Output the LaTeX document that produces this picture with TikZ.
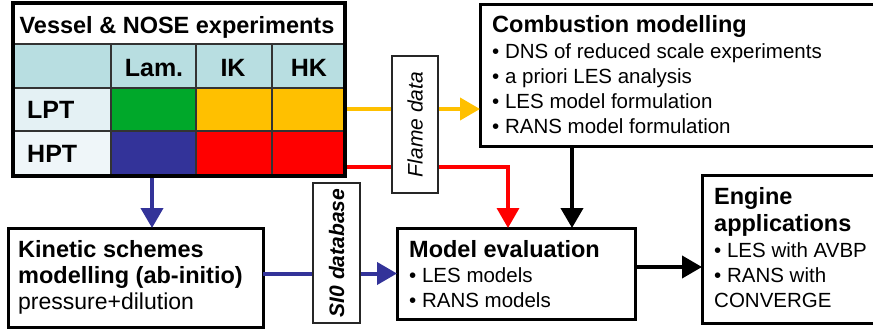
\documentclass[tikz,border=0pt]{standalone}
\usepackage{fontspec}
\setmainfont{Liberation Sans}
\usetikzlibrary{arrows.meta}
\definecolor{cyel}{HTML}{FFC000}
\definecolor{cred}{HTML}{FF0000}
\definecolor{cblue}{HTML}{333399}
\definecolor{cgreen}{HTML}{00A82A}
\definecolor{chead}{HTML}{B8DEE1}
\definecolor{clpt}{HTML}{E4F1F4}
\definecolor{chpt}{HTML}{EFF6F9}
\begin{document}
\begin{tikzpicture}[x=1pt,y=-1pt,
  box/.style={draw=black,line width=3,fill=white,inner sep=0,outer sep=0},
  thinbox/.style={draw=black!85,line width=1.3,fill=white,inner sep=0,outer sep=0},
  ttl/.style={anchor=base west,inner sep=0,font=\fontsize{23.5}{28}\selectfont\bfseries},
  btxt/.style={anchor=base west,inner sep=0,font=\fontsize{20.5}{25}\selectfont},
  hdr/.style={anchor=base,inner sep=0,font=\fontsize{25}{30}\selectfont\bfseries},
  conn/.style={line width=4,-{Triangle[length=20pt,width=22pt]}},
  grid/.style={draw=black!80,line width=1.3}
]
\useasboundingbox (0,0) rectangle (873,332);
\clip (0,0) rectangle (873,332);

% ---------- connectors (drawn first, boxes on top) ----------
\coordinate (yy) at (0,109);
\coordinate (rc) at (508,167);
\coordinate (bx) at (152,0);
\coordinate (cx) at (572,0);
\coordinate (ey) at (0,267);

% table frame node (for naming)
\node[draw=none,minimum width=332,minimum height=173,inner sep=0,outer sep=0,anchor=north west] (tbl) at (13,3) {};
\node[box,minimum width=400,minimum height=142] (comb) at (680,75) {};
\node[box,minimum width=255,minimum height=99] (kin) at (135.5,277.5) {};
\node[box,minimum width=238,minimum height=91] (meval) at (516,273.5) {};
\node[box,minimum width=178,minimum height=148] (eng) at (791,249) {};

\draw[conn,cyel] (tbl.east |- yy) -- (comb.west |- yy);
\draw[conn,cred,line width=3.5] (tbl.east |- rc) -- (rc) -- (rc |- meval.north);
\draw[conn,cblue] (bx |- tbl.south) -- (bx |- kin.north);
\draw[conn,cblue] (kin.east |- meval.west) -- (meval.west);
\draw[conn,black] (cx |- comb.south) -- (cx |- meval.north);
\draw[conn,black] (meval.east |- ey) -- (eng.west |- ey);

% ---------- label boxes on the connectors ----------
\node[thinbox,minimum width=46,minimum height=137] (flame) at (415,124.5) {};
\node[rotate=90,inner sep=0,font=\fontsize{21}{25}\selectfont\itshape] (flametxt) at (flame.center) {Flame data};
\node[thinbox,minimum width=47,minimum height=140] (sio) at (336.5,253) {};
\node[rotate=90,inner sep=0,font=\fontsize{21}{25}\selectfont\bfseries\itshape] (siotxt) at (sio.center) {SI0 database};

% ---------- table ----------
\fill[white] (13,3) rectangle (345,44);
\fill[chead] (13,44) rectangle (345,88);
\fill[clpt] (13,88) rectangle (111,131);
\fill[chpt] (13,131) rectangle (111,176);
\fill[cgreen] (111,88) rectangle (196,131);
\fill[cyel] (196,88) rectangle (345,131);
\fill[cblue] (111,131) rectangle (196,176);
\fill[cred] (196,131) rectangle (345,176);
\draw[grid] (13,44) -- (345,44);
\draw[grid] (13,88) -- (345,88);
\draw[grid] (13,131) -- (345,131);
\draw[grid] (111,44) -- (111,176);
\draw[grid] (196,44) -- (196,176);
\draw[grid] (272,44) -- (272,176);
\draw[black,line width=4] (tbl.north west) rectangle (tbl.south east);

\node[anchor=base,inner sep=0,font=\fontsize{23.5}{28}\selectfont\bfseries] (tbltitle) at (177,33) {Vessel \& NOSE experiments};
\node[hdr] (hlam) at (154,76) {Lam.};
\node[hdr] (hik) at (233,76) {IK};
\node[hdr] (hhk) at (309,76) {HK};
\node[hdr,anchor=base west] (hlpt) at (27,118) {LPT};
\node[hdr,anchor=base west] (hhpt) at (27,162) {HPT};

% ---------- combustion modelling ----------
\node[ttl] (combt) at (492,32) {Combustion modelling};
\node[btxt] (comb1) at (492,58) {• DNS of reduced scale experiments};
\node[btxt] (comb2) at (492,83) {• a priori LES analysis};
\node[btxt] (comb3) at (492,108) {• LES model formulation};
\node[btxt] (comb4) at (492,133) {• RANS model formulation};

% ---------- kinetic schemes ----------
\node[ttl] (kin1) at (18,257) {Kinetic schemes};
\node[ttl] (kin2) at (18,283) {modelling (ab-initio)};
\node[anchor=base west,inner sep=0,font=\fontsize{23}{28}\selectfont] (kin3) at (18,309) {pressure+dilution};

% ---------- model evaluation ----------
\node[ttl] (me1) at (409,257) {Model evaluation};
\node[btxt] (me2) at (409,282) {• LES models};
\node[btxt] (me3) at (409,307) {• RANS models};

% ---------- engine applications ----------
\node[ttl] (en1) at (714,204) {Engine};
\node[ttl] (en2) at (714,231) {applications};
\node[btxt] (en3) at (714,257) {• LES with AVBP};
\node[btxt] (en4) at (714,282) {• RANS with};
\node[btxt] (en5) at (714,307) {CONVERGE};
\end{tikzpicture}
\end{document}
